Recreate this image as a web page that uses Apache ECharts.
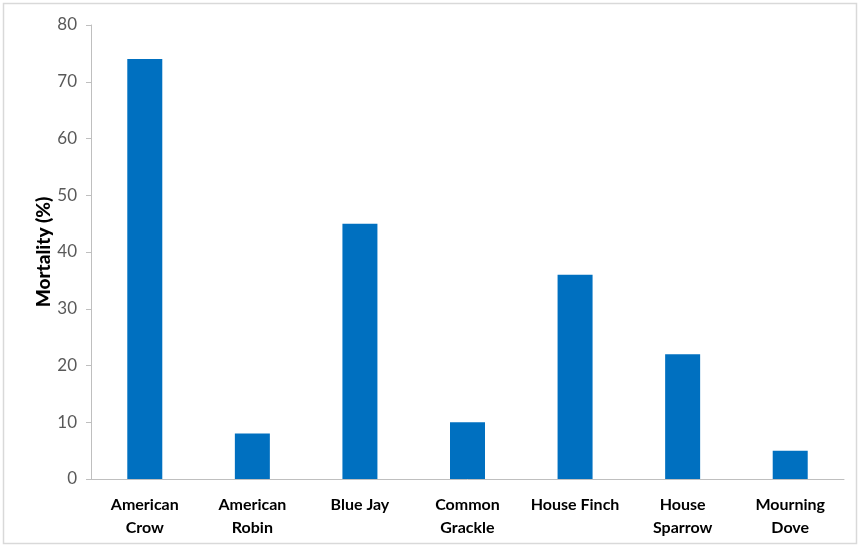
<!DOCTYPE html>
<html><head><meta charset="utf-8">
<script src="https://cdn.jsdelivr.net/npm/echarts@6/dist/echarts.min.js"></script>
<style>html,body{margin:0;padding:0;background:#fff}#c{width:861px;height:547px}</style>
</head><body><div id="c"></div>
<script>
const categories = ["American\nCrow", "American\nRobin", "Blue Jay", "Common\nGrackle", "House Finch", "House\nSparrow", "Mourning\nDove"];
const mortality = [74, 8, 45, 10, 36, 22, 5];
const yTicks = [0, 10, 20, 30, 40, 50, 60, 70, 80];

const chart = echarts.init(document.getElementById('c'));
chart.setOption({
  animation: false,
  graphic: [{type: 'rect', shape: {x: 3.5, y: 3.5, width: 853, height: 540}, style: {fill: 'none', stroke: '#d9d9d9', lineWidth: 1.5}, silent: true}],
  grid: {left: 91, right: 17, top: 25, bottom: 68},
  xAxis: {
    type: 'category', data: categories,
    axisLine: {lineStyle: {color: '#bfbfbf', width: 1}},
    axisTick: {show: false},
    axisLabel: {color: '#000', fontFamily: 'Lato', fontWeight: 'bold', fontSize: 16, lineHeight: 23, margin: 14, interval: 0}
  },
  yAxis: {
    type: 'value', min: yTicks[0], max: yTicks[yTicks.length - 1], interval: 10,
    name: 'Mortality (%)', nameLocation: 'middle', nameGap: 38, nameMoveOverlap: false,
    nameTextStyle: {color: '#000', fontFamily: 'Lato', fontWeight: 900, fontSize: 19},
    axisLine: {show: true, lineStyle: {color: '#bfbfbf', width: 1}},
    axisTick: {show: true, length: 5, lineStyle: {color: '#bfbfbf'}},
    splitLine: {show: false},
    axisLabel: {color: '#595959', fontFamily: 'Lato', fontSize: 17, margin: 14}
  },
  series: [{
    type: 'bar', data: mortality, barWidth: 35,
    itemStyle: {color: '#0070c0'}
  }]
});
</script></body></html>
